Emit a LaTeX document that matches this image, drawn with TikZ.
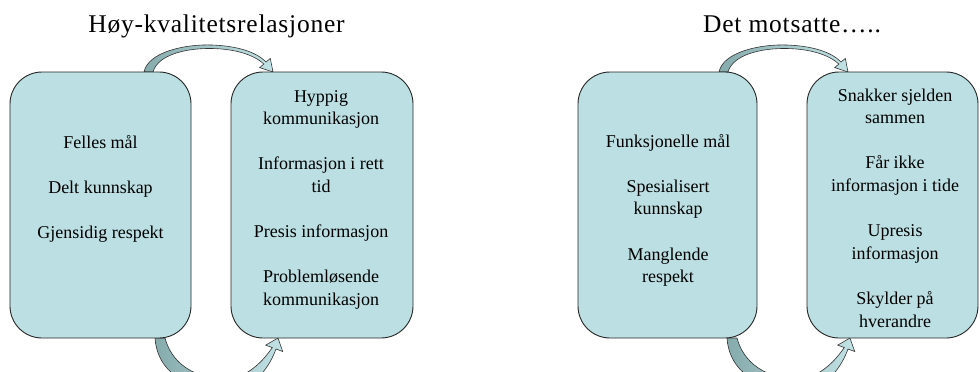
\documentclass[tikz,border=0pt]{standalone}
\usepackage{fontspec}
\setmainfont{Liberation Serif}
\begin{document}
\begin{tikzpicture}[x=1bp,y=-1bp,
  panel/.style={draw=black!85,line width=0.9bp,fill=boxfill,rounded corners=32bp,inner sep=0pt},
  itemtext/.style={anchor=base,align=center,inner sep=0pt,text=black,
    font=\fontsize{18bp}{22.6bp}\selectfont},
  heading/.style={anchor=base,inner sep=0pt,text=black,
    font=\fontsize{25.5bp}{30bp}\selectfont\addfontfeatures{LetterSpace=3}},
  bandarrow/.style={draw=black!80,line width=0.6bp,left color=arrowdark,right color=arrowlight},
  toparc/.pic={
    \path[bandarrow]
      (144,72) .. controls (148,52) and (185,44) .. (212,45)
      .. controls (238,46) and (256,52) .. (266.1,62)
      -- (270.3,58.4) -- (273,72) -- (259.7,67.6) -- (263.9,64)
      .. controls (254,55) and (236,49) .. (212,48.5)
      .. controls (188,48) and (158,54) .. (153,72) -- cycle;
  },
  bottomarc/.pic={
    \path[bandarrow]
      (155,338) .. controls (158,380) and (200,392) .. (235,388)
      .. controls (258,385) and (270,365) .. (276,349)
      -- (282.7,351.5) -- (278,338) -- (265.7,345.1) -- (272.3,347.6)
      .. controls (262,362) and (252,372) .. (235,378)
      .. controls (215,382) and (175,375) .. (165,338) -- cycle;
  }]
\definecolor{boxfill}{HTML}{BBDFE2}
\definecolor{arrowdark}{HTML}{86ABAD}
\definecolor{arrowlight}{HTML}{C2E3E5}
\useasboundingbox (0,0) rectangle (980,371);
\clip (0,0) rectangle (980,371);

% headings
\node[heading] (h1) at (216.5,32) {Høy-kvalitetsrelasjoner};
\node[heading] (h2) at (792,32) {Det motsatte…..};

% curved block arrows (behind the boxes)
\pic at (0,0) {toparc};
\pic at (0,0) {bottomarc};
\pic at (575,0) {toparc};
\pic at (572,0) {bottomarc};

% boxes
\node[panel,minimum width=181bp,minimum height=266bp] (b1) at (100.5,205) {};
\node[panel,minimum width=182bp,minimum height=266bp] (b2) at (322,205) {};
\node[panel,minimum width=179bp,minimum height=266bp] (b3) at (667.5,205) {};
\node[panel,minimum width=171bp,minimum height=266bp] (b4) at (892.5,205) {};

% box contents (anchored at the baseline of the last line)
\node[itemtext] (t1) at (100.5,238.5) {Felles mål\\[22.6bp]Delt kunnskap\\[22.6bp]Gjensidig respekt};
\node[itemtext] (t2) at (321,305.4) {Hyppig\\kommunikasjon\\[22.6bp]Informasjon i rett\\tid\\[22.6bp]Presis informasjon\\[22.6bp]Problemløsende\\kommunikasjon};
\node[itemtext] (t3) at (668,282.6) {Funksjonelle mål\\[22.6bp]Spesialisert\\kunnskap\\[22.6bp]Manglende\\respekt};
\node[itemtext] (t4) at (895,327) {Snakker sjelden\\sammen\\[22.6bp]Får ikke\\informasjon i tide\\[22.6bp]Upresis\\informasjon\\[22.6bp]Skylder på\\hverandre};
\end{tikzpicture}
\end{document}
